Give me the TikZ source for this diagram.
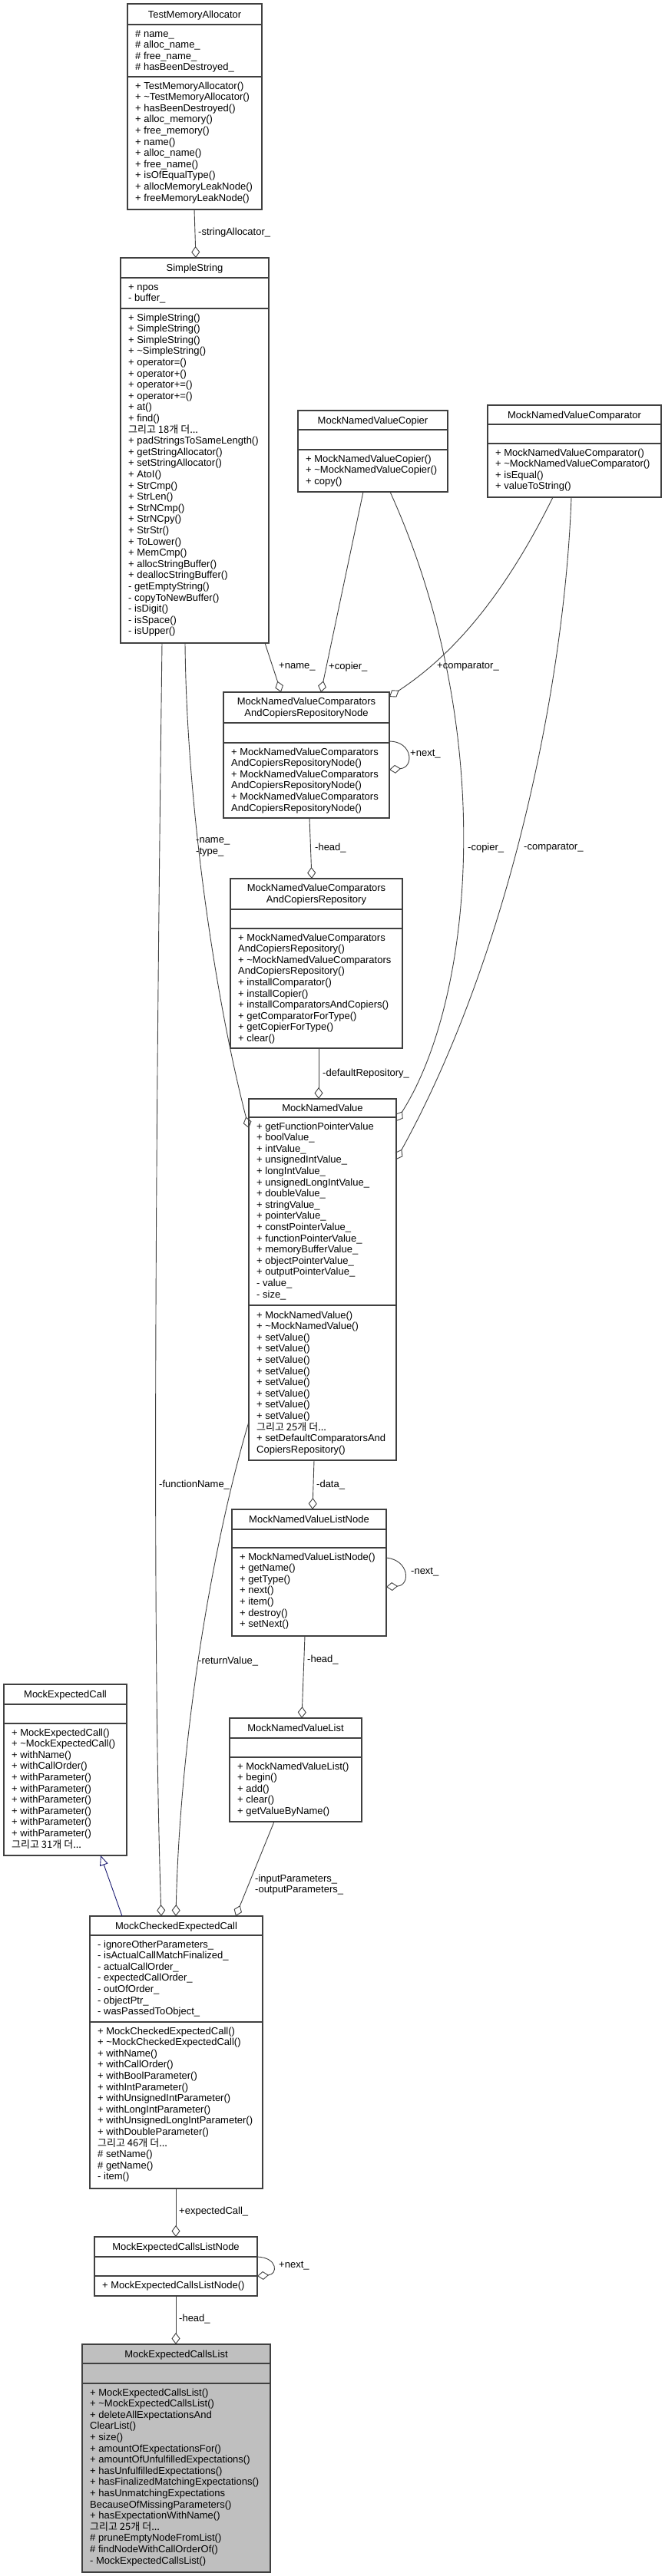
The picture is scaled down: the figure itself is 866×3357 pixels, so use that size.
\documentclass[tikz,border=0pt]{standalone}
\usepackage{fontspec}
\setmainfont{Liberation Sans}
\newfontfamily\kr{Noto Sans CJK KR}
\usetikzlibrary{arrows.meta}
\definecolor{boxc}{HTML}{404040}
\definecolor{edgec}{HTML}{404040}
\definecolor{inhc}{HTML}{191970}
\definecolor{hilite}{HTML}{BFBFBF}
\newcommand\dfont{\fontsize{13pt}{14.6pt}\selectfont}
\newcommand\lns[1]{\parbox[t]{300pt}{\raggedright\lineskiplimit=-1000pt\relax #1}}
\newcommand\ctr[2]{\parbox[t]{#1pt}{\centering\lineskiplimit=-1000pt\relax #2}}
\newcommand\andmore[1]{{\kr 그리고 #1개 더...}}
\newcommand\tl{\textasciitilde}
\tikzset{
 cls/.style={draw=boxc, line width=1.1pt, fill=white, inner sep=0pt, outer sep=0pt, anchor=north west},
 sepline/.style={draw=boxc, line width=1.1pt},
 ttl/.style={font=\dfont, inner sep=0pt, anchor=base},
 txt/.style={font=\dfont, inner sep=0pt, anchor=base west},
 lbl/.style={font=\dfont, inner sep=0pt, anchor=west},
 agg/.style={draw=edgec, line width=0.9pt, -{Diamond[open, length=15pt, width=11pt, line width=0.9pt]}},
 inh/.style={draw=inhc, line width=0.9pt, -{Triangle[open, length=13pt, width=11pt, line width=0.9pt]}},
}
% name x y w h hb ab style
\newcommand\umlbox[8]{%
 \node[cls, minimum width=#4pt, minimum height=#5pt, #8] (#1) at (#2,#3) {};
 \draw[sepline] ([yshift=-#6pt]#1.north west) -- ([yshift=-#6pt]#1.north east);
 \draw[sepline] ([yshift=-#7pt]#1.north west) -- ([yshift=-#7pt]#1.north east);
}
% name box offset content
\newcommand\sectext[4]{\node[txt] (#1) at ([xshift=10pt,yshift=-#3pt]#2.north west) {\lns{#4}};}
\newcommand\clstitle[4]{\node[ttl] (#1) at ([yshift=-#3pt]#2.north) {#4};}

\begin{document}
\begin{tikzpicture}[x=1pt,y=-1pt]
\useasboundingbox (0,0) rectangle (866,3357);

% TestMemoryAllocator
\umlbox{tma}{166}{5}{175}{268}{27}{95}{}
\clstitle{tma-t}{tma}{18}{TestMemoryAllocator}
\sectext{tma-a}{tma}{43}{\# name\_\\\# alloc\_name\_\\\# free\_name\_\\\# hasBeenDestroyed\_}
\sectext{tma-m}{tma}{111}{+ TestMemoryAllocator()\\+ \tl TestMemoryAllocator()\\+ hasBeenDestroyed()\\+ alloc\_memory()\\+ free\_memory()\\+ name()\\+ alloc\_name()\\+ free\_name()\\+ isOfEqualType()\\+ allocMemoryLeakNode()\\+ freeMemoryLeakNode()}

% SimpleString
\umlbox{ss}{157}{336}{193}{502}{26}{66}{}
\clstitle{ss-t}{ss}{17.5}{SimpleString}
\sectext{ss-a}{ss}{42}{+ npos\\- buffer\_}
\sectext{ss-m}{ss}{82}{+ SimpleString()\\+ SimpleString()\\+ SimpleString()\\+ \tl SimpleString()\\+ operator=()\\+ operator+()\\+ operator+=()\\+ operator+=()\\+ at()\\+ find()\\\andmore{18}\\+ padStringsToSameLength()\\+ getStringAllocator()\\+ setStringAllocator()\\+ AtoI()\\+ StrCmp()\\+ StrLen()\\+ StrNCmp()\\+ StrNCpy()\\+ StrStr()\\+ ToLower()\\+ MemCmp()\\+ allocStringBuffer()\\+ deallocStringBuffer()\\- getEmptyString()\\- copyToNewBuffer()\\- isDigit()\\- isSpace()\\- isUpper()}

% MockNamedValueCopier
\umlbox{cop}{388}{535}{195}{106}{25}{51}{}
\clstitle{cop-t}{cop}{17}{MockNamedValueCopier}
\sectext{cop-m}{cop}{67}{+ MockNamedValueCopier()\\+ \tl MockNamedValueCopier()\\+ copy()}

% MockNamedValueComparator
\umlbox{cmp}{635}{528}{226}{120}{25}{50}{}
\clstitle{cmp-t}{cmp}{17}{MockNamedValueComparator}
\sectext{cmp-m}{cmp}{66}{+ MockNamedValueComparator()\\+ \tl MockNamedValueComparator()\\+ isEqual()\\+ valueToString()}

% Repository node
\umlbox{rn}{291}{902}{216}{164}{40}{66}{}
\clstitle{rn-t}{rn}{16.5}{\ctr{216}{MockNamedValueComparators\\AndCopiersRepositoryNode}}
\sectext{rn-m}{rn}{82}{+ MockNamedValueComparators\\AndCopiersRepositoryNode()\\+ MockNamedValueComparators\\AndCopiersRepositoryNode()\\+ MockNamedValueComparators\\AndCopiersRepositoryNode()}

% Repository
\umlbox{rep}{300}{1145}{224}{221}{40}{65}{}
\clstitle{rep-t}{rep}{16.5}{\ctr{224}{MockNamedValueComparators\\AndCopiersRepository}}
\sectext{rep-m}{rep}{81}{+ MockNamedValueComparators\\AndCopiersRepository()\\+ \tl MockNamedValueComparators\\AndCopiersRepository()\\+ installComparator()\\+ installCopier()\\+ installComparatorsAndCopiers()\\+ getComparatorForType()\\+ getCopierForType()\\+ clear()}

% MockNamedValue
\umlbox{mnv}{324}{1432}{192}{471}{24}{269}{}
\clstitle{mnv-t}{mnv}{16.5}{MockNamedValue}
\sectext{mnv-a}{mnv}{40}{+ getFunctionPointerValue\\+ boolValue\_\\+ intValue\_\\+ unsignedIntValue\_\\+ longIntValue\_\\+ unsignedLongIntValue\_\\+ doubleValue\_\\+ stringValue\_\\+ pointerValue\_\\+ constPointerValue\_\\+ functionPointerValue\_\\+ memoryBufferValue\_\\+ objectPointerValue\_\\+ outputPointerValue\_\\- value\_\\- size\_}
\sectext{mnv-m}{mnv}{286}{+ MockNamedValue()\\+ \tl MockNamedValue()\\+ setValue()\\+ setValue()\\+ setValue()\\+ setValue()\\+ setValue()\\+ setValue()\\+ setValue()\\+ setValue()\\\andmore{25}\\+ setDefaultComparatorsAnd\\CopiersRepository()}

% MockNamedValueListNode
\umlbox{mnvln}{302}{1967}{201}{165}{26}{50}{}
\clstitle{mnvln-t}{mnvln}{17.5}{MockNamedValueListNode}
\sectext{mnvln-m}{mnvln}{66}{+ MockNamedValueListNode()\\+ getName()\\+ getType()\\+ next()\\+ item()\\+ destroy()\\+ setNext()}

% MockExpectedCall
\umlbox{mec}{5}{2195}{160}{223}{26}{51}{}
\clstitle{mec-t}{mec}{17.5}{MockExpectedCall}
\sectext{mec-m}{mec}{67}{+ MockExpectedCall()\\+ \tl MockExpectedCall()\\+ withName()\\+ withCallOrder()\\+ withParameter()\\+ withParameter()\\+ withParameter()\\+ withParameter()\\+ withParameter()\\+ withParameter()\\\andmore{31}}

% MockNamedValueList
\umlbox{mnvl}{299}{2239}{172}{135}{26}{51}{}
\clstitle{mnvl-t}{mnvl}{17.5}{MockNamedValueList}
\sectext{mnvl-m}{mnvl}{67}{+ MockNamedValueList()\\+ begin()\\+ add()\\+ clear()\\+ getValueByName()}

% MockCheckedExpectedCall
\umlbox{mcec}{117}{2497}{225}{355}{25}{138}{}
\clstitle{mcec-t}{mcec}{17}{MockCheckedExpectedCall}
\sectext{mcec-a}{mcec}{41}{- ignoreOtherParameters\_\\- isActualCallMatchFinalized\_\\- actualCallOrder\_\\- expectedCallOrder\_\\- outOfOrder\_\\- objectPtr\_\\- wasPassedToObject\_}
\sectext{mcec-m}{mcec}{154}{+ MockCheckedExpectedCall()\\+ \tl MockCheckedExpectedCall()\\+ withName()\\+ withCallOrder()\\+ withBoolParameter()\\+ withIntParameter()\\+ withUnsignedIntParameter()\\+ withLongIntParameter()\\+ withUnsignedLongIntParameter()\\+ withDoubleParameter()\\\andmore{46}\\\# setName()\\\# getName()\\- item()}

% MockExpectedCallsListNode
\umlbox{mecln}{123}{2915}{212}{77}{26}{51}{}
\clstitle{mecln-t}{mecln}{17.5}{MockExpectedCallsListNode}
\sectext{mecln-m}{mecln}{67}{+ MockExpectedCallsListNode()}

% MockExpectedCallsList
\umlbox{mecl}{107}{3055}{245}{297}{25}{51}{fill=hilite}
\clstitle{mecl-t}{mecl}{17}{MockExpectedCallsList}
\sectext{mecl-m}{mecl}{67}{+ MockExpectedCallsList()\\+ \tl MockExpectedCallsList()\\+ deleteAllExpectationsAnd\\ClearList()\\+ size()\\+ amountOfExpectationsFor()\\+ amountOfUnfulfilledExpectations()\\+ hasUnfulfilledExpectations()\\+ hasFinalizedMatchingExpectations()\\+ hasUnmatchingExpectations\\BecauseOfMissingParameters()\\+ hasExpectationWithName()\\\andmore{25}\\\# pruneEmptyNodeFromList()\\\# findNodeWithCallOrderOf()\\- MockExpectedCallsList()}

% ---------- connectors ----------
\draw[agg] ([xshift=87pt]tma.south west) -- ([xshift=98pt]ss.north west);
\node[lbl] (l-sa) at (258,303) {-stringAllocator\_};

\draw[agg] ([xshift=188pt]ss.south west) -- ([xshift=75pt]rn.north west);
\node[lbl] (l-name) at (363,869) {+name\_};

\draw[agg] ([xshift=85pt]cop.south west) -- ([xshift=127pt]rn.north west);
\node[lbl] (l-copier) at (428,869) {+copier\_};

\draw[agg] ([xshift=85pt]cmp.south west) .. controls (650,790) and (580,860) .. ([yshift=-6pt]rn.north east);
\node[lbl] (l-pcmp) at (569,869) {+comparator\_};

\draw[agg] ([yshift=-64pt]rn.north east) .. controls (537,966) and (540,1000) .. ([yshift=-101pt]rn.north east);
\node[lbl] (l-rnnext) at (534,983) {+next\_};

\draw[agg] ([xshift=112pt]rn.south west) -- ([xshift=106pt]rep.north west);
\node[lbl] (l-head1) at (410,1105) {-head\_};

\draw[agg] ([xshift=115pt]rep.south west) -- ([xshift=91pt]mnv.north west);
\node[lbl] (l-defrep) at (420,1399) {-defaultRepository\_};

\draw[agg] ([xshift=84pt]ss.south west) .. controls (243,1050) and (280,1300) .. ([yshift=-38pt]mnv.north west);
\node[lbl] (l-nametype) at (255,1104) {\lns{-name\_\\-type\_}};

\draw[agg] ([xshift=54pt]ss.south west) .. controls (204,1400) and (197,2100) .. ([xshift=93pt]mcec.north west);
\node[lbl] (l-fn) at (207,1935) {-functionName\_};

\draw[agg] ([yshift=50pt]mnv.south west) .. controls (280,2000) and (235,2250) .. ([xshift=112pt]mcec.north west);
\node[lbl] (l-rv) at (258,2165) {-returnValue\_};

\draw[agg] ([xshift=85pt]mnv.south west) -- ([xshift=105pt]mnvln.north west);
\node[lbl] (l-data) at (412,1935) {-data\_};

\draw[agg] ([yshift=-63pt]mnvln.north east) .. controls (533,2033) and (535,2066) .. ([yshift=-101pt]mnvln.north east);
\node[lbl] (l-mnvlnnext) at (535,2049) {-next\_};

\draw[agg] ([xshift=95pt]mnvln.south west) -- ([xshift=94pt]mnvl.north west);
\node[lbl] (l-head2) at (400,2163) {-head\_};

\draw[agg] ([xshift=58pt]mnvl.south west) -- ([xshift=190pt]mcec.north west);
\node[lbl] (l-params) at (332,2456) {\lns{-inputParameters\_\\-outputParameters\_}};

\draw[inh] ([xshift=42pt]mcec.north west) -- ([xshift=126pt]mec.south west);

\draw[agg] ([xshift=112pt]mcec.south west) -- ([xshift=106pt]mecln.north west);
\node[lbl] (l-ec) at (233,2882) {+expectedCall\_};

\draw[agg] ([yshift=-26pt]mecln.north east) .. controls (362,2942) and (362,2964) .. ([yshift=-51pt]mecln.north east);
\node[lbl] (l-mecnext) at (363,2953) {+next\_};

\draw[agg] ([xshift=106pt]mecln.south west) -- ([xshift=122pt]mecl.north west);
\node[lbl] (l-head3) at (233,3022) {-head\_};

\draw[agg] ([xshift=120pt]cop.south west) .. controls (648,950) and (618,1300) .. ([yshift=-29pt]mnv.north east);
\node[lbl] (l-mcopier) at (609,1105) {-copier\_};

\draw[agg] ([xshift=109pt]cmp.south west) .. controls (735,900) and (660,1250) .. ([yshift=-79pt]mnv.north east);
\node[lbl] (l-mcmp) at (682,1105) {-comparator\_};
\end{tikzpicture}
\end{document}
